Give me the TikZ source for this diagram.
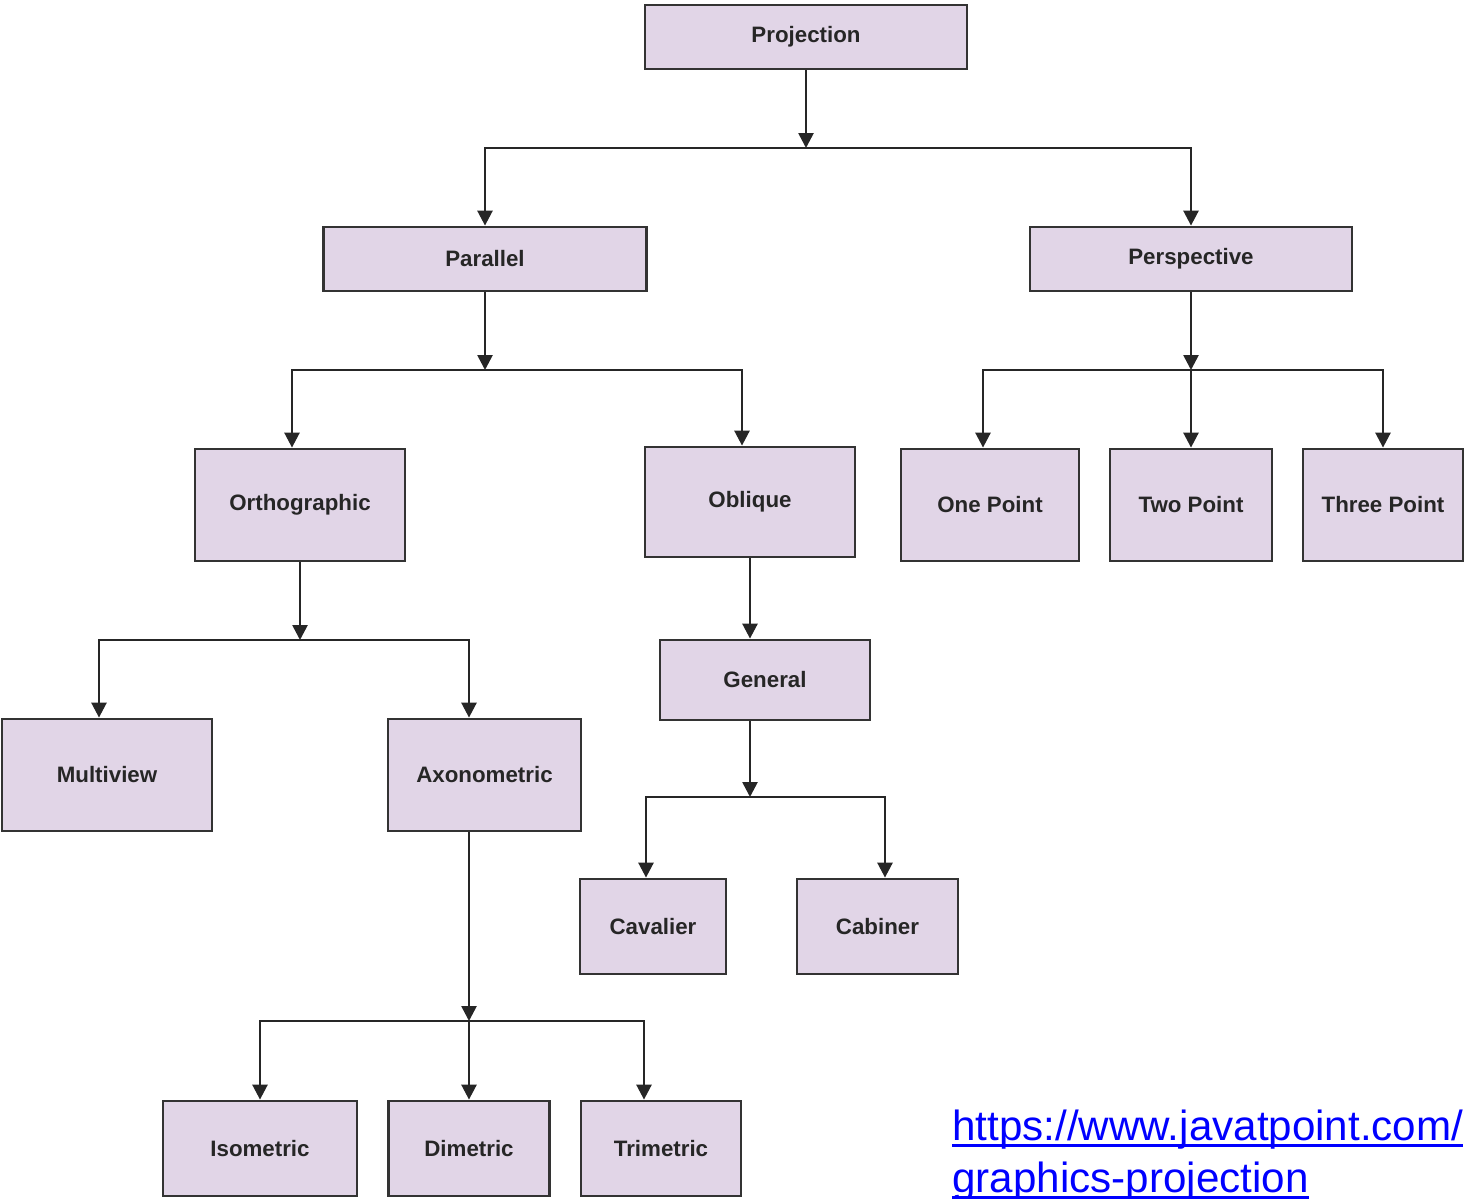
\documentclass[tikz,border=0pt]{standalone}
\usepackage{fontspec}
\setmainfont{Liberation Sans}
\usetikzlibrary{arrows.meta}
\definecolor{boxfill}{HTML}{E1D5E7}
\definecolor{boxline}{HTML}{333333}
\definecolor{linkblue}{HTML}{0000FF}
\newcommand\linkline[1]{\setbox0\hbox{#1}\rlap{\color{linkblue}\rule[-4pt]{\wd0}{1.5pt}}\box0}

\begin{document}
\begin{tikzpicture}[x=0.02cm, y=-0.02cm, >={Triangle[length=0.3cm, width=0.3cm]}]
\tikzset{
  box/.style={
    draw=boxline, fill=boxfill, line width=1.6pt, rectangle,
    inner sep=0pt, align=center, text=black!85,
    font=\fontsize{12.7}{15}\selectfont\bfseries
  },
  link/.style={
    inner sep=0pt, anchor=base west, text=linkblue,
    font=\fontsize{24}{28}\selectfont\color{linkblue}
  },
  conn/.style={->, line width=1.5pt, draw=black!85}
}
\useasboundingbox (0,0) rectangle (1465,1198);

\node[box, minimum width=6.44cm, minimum height=1.28cm] (proj)   at (806,37)     {Projection};
\node[box, minimum width=6.46cm, minimum height=1.28cm] (par)    at (485,259)    {Parallel};
\node[box, minimum width=6.44cm, minimum height=1.28cm] (persp)  at (1191,259)   {Perspective};
\node[box, minimum width=4.2cm,  minimum height=2.24cm] (orth)   at (300,505)    {Orthographic};
\node[box, minimum width=4.2cm,  minimum height=2.2cm]  (obl)    at (750,502)    {Oblique};
\node[box, minimum width=3.56cm, minimum height=2.24cm] (onept)  at (990,505)    {One Point};
\node[box, minimum width=3.24cm, minimum height=2.24cm] (twopt)  at (1191,505)   {Two Point};
\node[box, minimum width=3.2cm,  minimum height=2.24cm] (threept) at (1383,505)  {Three Point};
\node[box, minimum width=4.2cm,  minimum height=1.6cm]  (gen)    at (765,680)    {General};
\node[box, minimum width=4.2cm,  minimum height=2.24cm] (multi)  at (107,775)    {Multiview};
\node[box, minimum width=3.86cm, minimum height=2.24cm] (axo)    at (484.5,775)  {Axonometric};
\node[box, minimum width=2.92cm, minimum height=1.9cm]  (cav)    at (653,926.5)  {Cavalier};
\node[box, minimum width=3.22cm, minimum height=1.9cm]  (cab)    at (877.5,926.5) {Cabiner};
\node[box, minimum width=3.88cm, minimum height=1.9cm]  (iso)    at (260,1148.5) {Isometric};
\node[box, minimum width=3.22cm, minimum height=1.9cm]  (dim)    at (469,1148.5) {Dimetric};
\node[box, minimum width=3.2cm,  minimum height=1.9cm]  (tri)    at (661,1148.5) {Trimetric};

\node[link] (url1) at (952,1140) {\linkline{https://www.javatpoint.com/}};
\node[link] (url2) at (952,1192) {\linkline{graphics-projection}};

% junctions
\coordinate (j1) at (806,148);
\coordinate (j2) at (485,370);
\coordinate (j3) at (1191,370);
\coordinate (j4) at (300,640);
\coordinate (j5) at (750,797);
\coordinate (j6) at (469,1021);

\draw[conn] (proj) -- (j1);
\draw[conn] (j1) -| (par);
\draw[conn] (j1) -| (persp);

\draw[conn] (par) -- (j2);
\draw[conn] (j2) -| ([xshift=-0.16cm]orth.north);
\draw[conn] (j2) -| ([xshift=-0.16cm]obl.north);

\draw[conn] (persp) -- (j3);
\draw[conn] (j3) -| ([xshift=-0.14cm]onept.north);
\draw[conn] (j3) -- (twopt);
\draw[conn] (j3) -| (threept);

\draw[conn] (orth) -- (j4);
\draw[conn] (j4) -| ([xshift=-0.16cm]multi.north);
\draw[conn] (j4) -| ([xshift=-0.31cm]axo.north);

\draw[conn] (obl.south) -- (obl.south |- gen.north);
\draw[conn] (gen.south -| j5) -- (j5);
\draw[conn] (j5) -| ([xshift=-0.14cm]cav.north);
\draw[conn] (j5) -| ([xshift=0.15cm]cab.north);

\draw[conn] (axo.south -| j6) -- (j6);
\draw[conn] (j6) -| (iso);
\draw[conn] (j6) -- (dim);
\draw[conn] (j6) -| ([xshift=-0.34cm]tri.north);
\end{tikzpicture}
\end{document}
